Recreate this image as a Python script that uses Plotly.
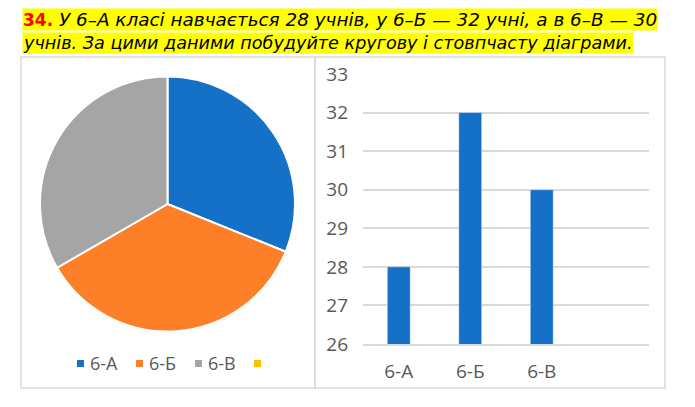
import plotly.graph_objects as go

W, H = 695, 407
OFF = 8  # the page body margin shifts the figure by 8px, compensate in placement

classes = ["6-А", "6-Б", "6-В"]
students = [28, 32, 30]
legend_labels = ["6-А", "6-Б", "6-В", ""]
colors = ["#1570c8", "#fd7f27", "#a5a5a5", "#ffc000"]
y_ticks = [26, 27, 28, 29, 30, 31, 32, 33]

line1 = "У 6–А класі навчається 28 учнів, у 6–Б — 32 учні, а в 6–В — 30"
line2 = "учнів. За цими даними побудуйте кругову і стовпчасту діаграми."

FONT = "Open Sans"
GRID = "#d9d9d9"
LABEL = "#595959"


def px(x):
    return (x - OFF) / W


def py(y):
    return 1 - (y - OFF) / H


fig = go.Figure()

fig.add_trace(
    go.Pie(
        labels=classes,
        values=students,
        marker=dict(colors=colors[:3], line=dict(color="white", width=2)),
        sort=False,
        direction="clockwise",
        textinfo="none",
        hoverinfo="label+value",
        showlegend=False,
        automargin=False,
        domain=dict(x=[px(40), px(295)], y=[py(332), py(76)]),
    )
)

fig.add_trace(
    go.Bar(
        x=classes,
        y=students,
        marker=dict(color=colors[0]),
        width=0.32,
        showlegend=False,
    )
)

# panel frames
for x0, x1 in [(21, 315), (315, 665)]:
    fig.add_shape(
        type="rect", xref="paper", yref="paper",
        x0=px(x0), x1=px(x1), y0=py(388), y1=py(57),
        line=dict(color=GRID, width=1.5),
    )

# manual pie legend (includes the empty 4th entry)
leg_x = [77, 136, 195, 254]
for lx, lab, col in zip(leg_x, legend_labels, colors):
    fig.add_shape(
        type="rect", xref="paper", yref="paper",
        x0=px(lx), x1=px(lx + 7), y0=py(367), y1=py(360),
        line=dict(width=0), fillcolor=col,
    )
    if lab:
        fig.add_annotation(
            x=px(lx + 11), y=py(363), xref="paper", yref="paper",
            text=lab, showarrow=False, xanchor="left", yanchor="middle",
            font=dict(family=FONT, size=18, color=LABEL),
        )

# task text with yellow highlight
fig.add_annotation(
    x=px(22), y=1, xref="paper", yref="paper",
    text="<b><span style='color:#ff0000;font-size:17px'>34.</span></b> <i>" + line1 + "</i>",
    showarrow=False, xanchor="left", yanchor="top",
    bgcolor="#ffff00", borderpad=0,
    font=dict(family="DejaVu Sans", size=18.4, color="black"),
)
fig.add_annotation(
    x=px(22), y=py(32), xref="paper", yref="paper",
    text="<i>" + line2 + "</i>",
    showarrow=False, xanchor="left", yanchor="top",
    bgcolor="#ffff00", borderpad=0,
    font=dict(family="DejaVu Sans", size=17.6, color="black"),
)

fig.update_layout(
    width=W, height=H,
    margin=dict(l=0, r=0, t=0, b=0, autoexpand=False),
    paper_bgcolor="white",
    plot_bgcolor="white",
    showlegend=False,
    bargap=0.68,
    xaxis=dict(
        domain=[px(363), px(649)],
        type="category",
        categoryorder="array",
        categoryarray=classes,
        range=[-0.5, len(classes) + 0.5],
        automargin=False,
        showgrid=False,
        showline=True, linecolor=GRID, linewidth=1.5,
        ticks="", ticklabelstandoff=9,
        tickfont=dict(family=FONT, size=19, color=LABEL),
    ),
    yaxis=dict(
        domain=[py(344), py(74)],
        range=[y_ticks[0], y_ticks[-1]],
        tickvals=y_ticks,
        automargin=False,
        showgrid=True, gridcolor=GRID, gridwidth=1.5,
        zeroline=False, showline=False,
        ticks="", ticklabelstandoff=14,
        tickfont=dict(family=FONT, size=19, color=LABEL),
    ),
)

fig.write_html("out.html")
